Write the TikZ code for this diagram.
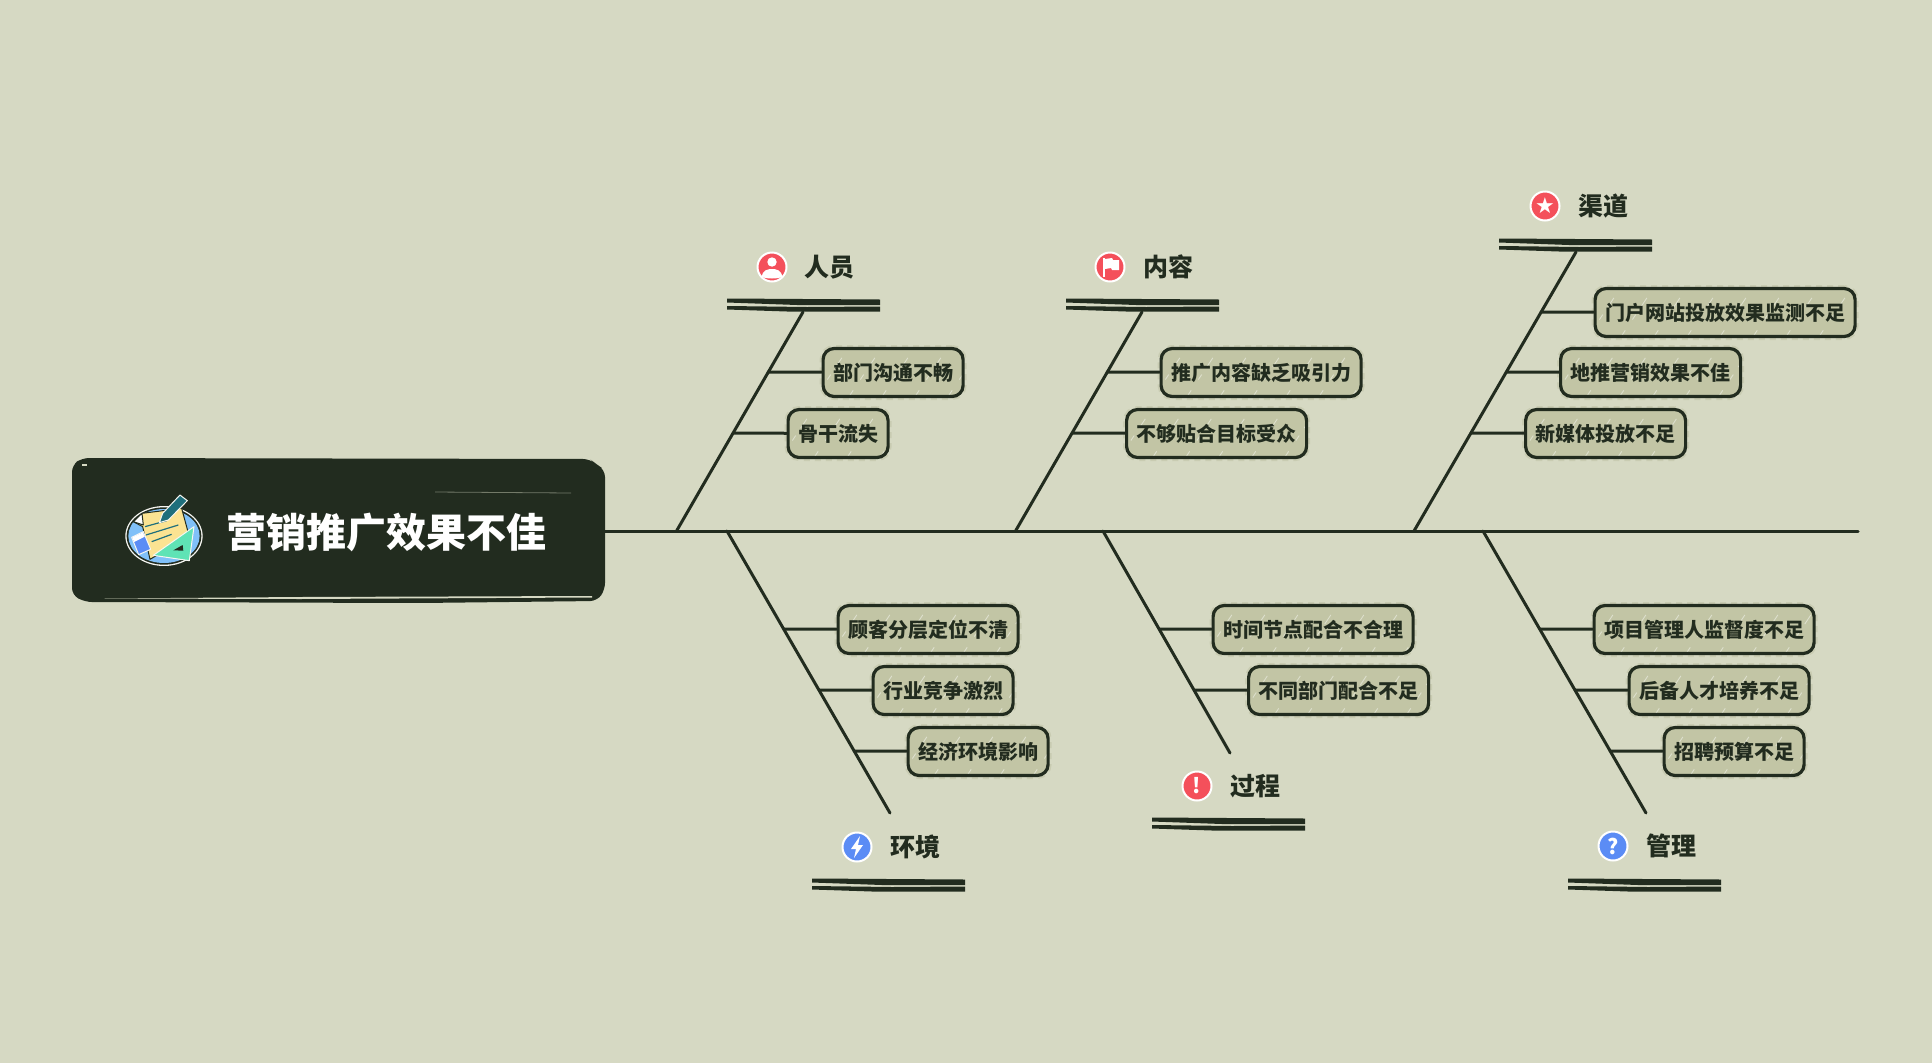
\documentclass[tikz,border=0pt]{standalone}
\usepackage{fontspec}
\setmainfont{Noto Sans CJK SC}
\newfontfamily\symfont{DejaVu Sans}
\usetikzlibrary{calc}

\definecolor{bgcol}{HTML}{D6D9C3}
\definecolor{darkcol}{HTML}{222C1F}
\definecolor{leafcol}{HTML}{C2C5A5}
\definecolor{roughcol}{HTML}{BDC0A2}
\definecolor{redcol}{HTML}{F4505B}
\definecolor{bluecol}{HTML}{5B8CF5}
\definecolor{skycol}{HTML}{80C0F8}
\definecolor{papercol}{HTML}{FBE392}
\definecolor{rulercol}{HTML}{5FE3B5}
\definecolor{pencol}{HTML}{1F6F7C}

\tikzset{
  line/.style={draw=darkcol,line width=3pt,line cap=round},
  leaf/.style={draw=darkcol,line width=3.2pt,fill=leafcol,rounded corners=11pt,anchor=west,
    minimum height=48pt,inner xsep=10pt,inner ysep=0pt,text=darkcol,
    font=\bfseries\fontsize{20pt}{20pt}\selectfont,
    preaction={draw=roughcol,line width=7pt,dash pattern=on 6pt off 5pt,opacity=.5},
    path picture={
      \foreach \i in {0,1,...,8}
        \draw[white,opacity=.45,line width=.9pt,dash pattern=on 11pt off 13pt on 6pt off 9pt]
          ($(path picture bounding box.south west)+(\i*33-9,3)$) -- ++(36,-54);
    }},
  topic/.style={text=darkcol,font=\bfseries\fontsize{25pt}{25pt}\selectfont,inner sep=0pt},
  redmark/.style={circle,fill=redcol,draw=white,line width=2pt,minimum size=29pt,inner sep=0pt,
    text=white,font=\bfseries\fontsize{21pt}{21pt}\selectfont},
  bluemark/.style={redmark,fill=bluecol},
  topicbar/.pic={
    \fill[darkcol] (0,-2.5) -- (153,-1.5) -- (153,4.2) -- (70,4) -- (0,1.5) -- cycle;
    \fill[darkcol] (0,5) -- (80,6) -- (153,5.5) -- (153,10.5) -- (60,10.5) -- (0,8.5) -- cycle;
  }
}

\begin{document}
\begin{tikzpicture}[x=1pt,y=-1pt]

  \fill[bgcol] (0,0) rectangle (1932,1063);
  \useasboundingbox (0,0) rectangle (1932,1063);

  % title
  \fill[darkcol,rounded corners=7pt] (72,465) -- (82,458) -- (590,459) -- (596,464) -- (605,470)
    -- (605,590) -- (597,601) -- (420,603) -- (85,602) -- (72,595) -- cycle;
  \node[inner sep=0pt,text=white,font=\bfseries\fontsize{40pt}{40pt}\selectfont] (title) at (386,532) {营销推广效果不佳};
  \coordinate (titleout) at (605,531);
  \fill[bgcol] (104,598.5) -- (300,597) -- (592,596) -- (592,597.5) -- (300,599) -- cycle;
  \draw[bgcol,opacity=.45,line width=.8pt] (435,492) -- (571,493);
  \fill[bgcol] (82,464) rectangle (87,465.5);

  % icon
  \begin{scope}[shift={(110,480)},x=.3333pt,y=-.3333pt,line join=round]
    \fill[white!85!leafcol] (162,168) ellipse [x radius=116,y radius=90];
    \fill[darkcol] (162,168) ellipse [x radius=112,y radius=86];
    \fill[skycol] (162,168) ellipse [x radius=107,y radius=81];
    \draw[darkcol,line width=1pt,fill=papercol] (96,100) -- (215,85) -- (238,170) -- (120,238) -- (98,140) -- (70,125) -- cycle;
    \draw[darkcol,line width=1pt,fill=white] (96,100) -- (70,125) -- (100,135) -- cycle;
    \draw[pencol,line width=1.2pt] (105,140) -- (170,122) (108,165) -- (205,135) (125,185) -- (185,163);
    \draw[white!85!leafcol,line width=1pt,fill=pencol] (158,100) -- (210,45) -- (232,62) -- (175,120) -- (148,128) -- cycle;
    \draw[white!85!leafcol,line width=1pt,fill=bluecol] (65,172) -- (100,155) -- (122,208) -- (86,224) -- cycle;
    \fill[white] (67,172) -- (99,157) -- (104,170) -- (72,186) -- cycle;
    \draw[white!85!leafcol,line width=1pt,fill=rulercol] (252,140) -- (238,242) -- (130,226) -- cycle;
    \fill[darkcol] (190,211) -- (218,195) -- (220,212) -- cycle;
  \end{scope}

  % topics
  \node[redmark] (renyuanmark) at (772,267) {};
  \node[topic] (renyuan) at (829,267) {人员};
  \fill[white] (772,262) circle (4.7);
  \fill[white] (762,277) .. controls (762,270) and (768,269) .. (772,269) .. controls (776,269) and (782,270) .. (782,277) .. controls (777,279) and (767,279) .. (762,277) -- cycle;
  \pic at (727,301) {topicbar};
  \coordinate (renyuantop) at (803,312);

  \node[redmark] (neirongmark) at (1110,267) {};
  \node[topic] (neirong) at (1168,267) {内容};
  \fill[white] (1103,258) -- (1105,258) -- (1105,277) -- (1103,277) -- cycle;
  \fill[white] (1105,259) -- (1112,258) -- (1113,260) -- (1119,260) -- (1119,270) -- (1112,270) -- (1111,268) -- (1105,269) -- cycle;
  \pic at (1066,301) {topicbar};
  \coordinate (neirongtop) at (1142,312);

  \node[redmark,font=\symfont\fontsize{22pt}{22pt}\selectfont] (qudaomark) at (1545,206) {★};
  \node[topic] (qudao) at (1603,206) {渠道};
  \pic at (1499,241) {topicbar};
  \coordinate (qudaotop) at (1576,252);

  \node[bluemark] (huanjingmark) at (857,847) {};
  \node[topic] (huanjing) at (915,847) {环境};
  \fill[white] (860,836) -- (851,849) -- (856,849) -- (854,858) -- (863,845) -- (858,845) -- cycle;
  \pic at (812,881) {topicbar};
  \coordinate (huanjingend) at (890,813);

  \node[redmark] (guochengmark) at (1197,786) {!};
  \node[topic] (guocheng) at (1255,786) {过程};
  \pic at (1152,820) {topicbar};
  \coordinate (guochengend) at (1230,753);

  \node[bluemark] (guanlimark) at (1613,846) {?};
  \node[topic] (guanli) at (1671,846) {管理};
  \pic at (1568,881) {topicbar};
  \coordinate (guanliend) at (1646,813);

  % spine
  \coordinate (spineend) at (1858,531);
  \coordinate (renyuanj) at (676.5,531);
  \coordinate (huanjingj) at (727,531);
  \coordinate (neirongj) at (1015.5,531);
  \coordinate (guochengj) at (1103,531);
  \coordinate (qudaoj) at (1414,531);
  \coordinate (guanlij) at (1483,531);

  % bone joints
  \coordinate (r1) at (768,372);
  \coordinate (r2) at (733,433);
  \coordinate (n1) at (1107,372);
  \coordinate (n2) at (1072,433);
  \coordinate (q1) at (1541,312);
  \coordinate (q2) at (1506,372);
  \coordinate (q3) at (1471,433);
  \coordinate (h1) at (784,629);
  \coordinate (h2) at (819,690);
  \coordinate (h3) at (854,751);
  \coordinate (g1) at (1160,629);
  \coordinate (g2) at (1195,690);
  \coordinate (m1) at (1540,629);
  \coordinate (m2) at (1575,690);
  \coordinate (m3) at (1610,751);

  \begin{scope}[every edge/.style={line}]
    \path (titleout) edge (spineend);
    \path (renyuanj) edge (renyuantop);
    \path (neirongj) edge (neirongtop);
    \path (qudaoj) edge (qudaotop);
    \path (huanjingj) edge (huanjingend);
    \path (guochengj) edge (guochengend);
    \path (guanlij) edge (guanliend);
  \end{scope}

  % leaves
  \begin{scope}[every node/.style={leaf}]
    \node (bumen) at (821.5,372.5) {部门沟通不畅};
    \node (gugan) at (786.5,433.5) {骨干流失};
    \node (tuiguang) at (1159.5,372.5) {推广内容缺乏吸引力};
    \node (tiehe) at (1125,433.5) {不够贴合目标受众};
    \node (menhu) at (1593.5,312.5) {门户网站投放效果监测不足};
    \node (ditui) at (1559,372.5) {地推营销效果不佳};
    \node (xinmeiti) at (1524,433.5) {新媒体投放不足};
    \node (guke) at (836.5,629.5) {顾客分层定位不清};
    \node (hangye) at (871.5,690.5) {行业竞争激烈};
    \node (jingji) at (906.5,751.5) {经济环境影响};
    \node (shijian) at (1211.5,629.5) {时间节点配合不合理};
    \node (butong) at (1247,690.5) {不同部门配合不足};
    \node (xiangmu) at (1592.5,629.5) {项目管理人监督度不足};
    \node (houbei) at (1627.5,690.5) {后备人才培养不足};
    \node (zhaopin) at (1662.5,751.5) {招聘预算不足};
  \end{scope}

  \begin{scope}[every edge/.style={line}]
    \path (r1) edge (bumen);
    \path (r2) edge (gugan);
    \path (n1) edge (tuiguang);
    \path (n2) edge (tiehe);
    \path (q1) edge (menhu);
    \path (q2) edge (ditui);
    \path (q3) edge (xinmeiti);
    \path (h1) edge (guke);
    \path (h2) edge (hangye);
    \path (h3) edge (jingji);
    \path (g1) edge (shijian);
    \path (g2) edge (butong);
    \path (m1) edge (xiangmu);
    \path (m2) edge (houbei);
    \path (m3) edge (zhaopin);
  \end{scope}

\end{tikzpicture}
\end{document}
